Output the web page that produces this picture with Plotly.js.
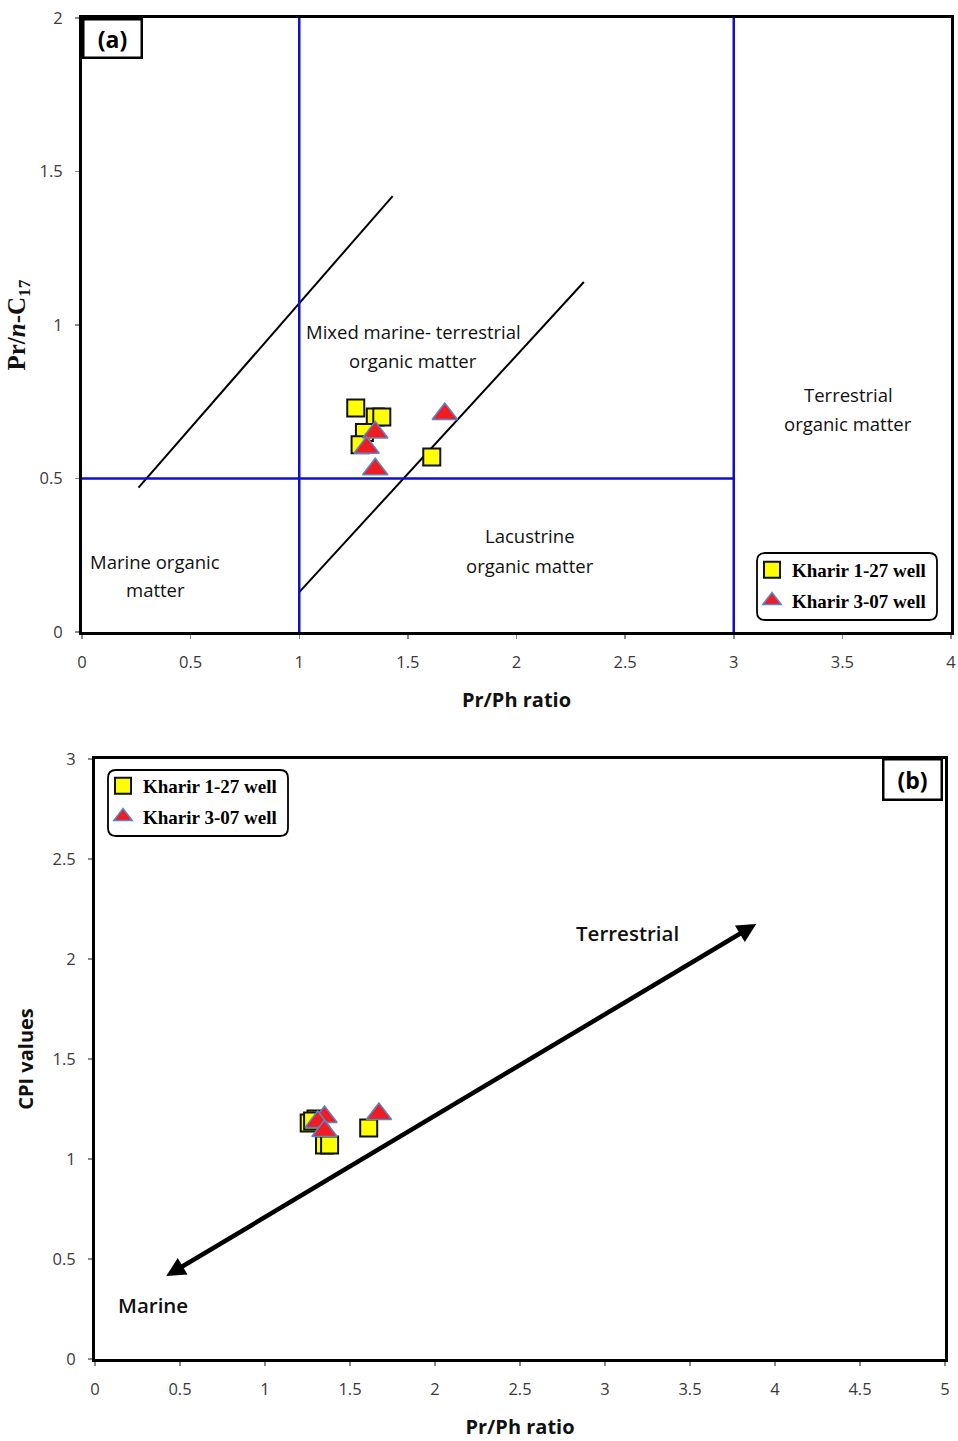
<!DOCTYPE html>
<html>
<head>
<meta charset="utf-8">
<script src="https://cdn.plot.ly/plotly-3.0.1.min.js"></script>
<style>
  html, body { margin: 0; padding: 0; background: #fff; }
  #chart { width: 958px; height: 1441px; }
</style>
</head>
<body>
<div id="chart"></div>
<script>
// Well names
const wellSquares = 'Kharir 1-27 well';
const wellTriangles = 'Kharir 3-07 well';

// Kharir 1-27 samples
const prPhSq   = [1.26, 1.35, 1.38, 1.30, 1.28, 1.61];
const prC17Sq  = [0.73, 0.70, 0.70, 0.65, 0.61, 0.57];
const cpiSq    = [1.18, 1.07, 1.07, 1.20, 1.19, 1.155];

// Kharir 3-07 samples
const prPhTri  = [1.67, 1.35, 1.31, 1.35];
const prC17Tri = [0.71, 0.65, 0.60, 0.53];
const cpiTri   = [1.225, 1.21, 1.185, 1.14];

// Genetic-field boundaries (Pr/Ph vs Pr/n-C17)
const diagUpperX = [0.26, 1.43];
const diagUpperY = [0.47, 1.42];
const diagLowerX = [1.0, 2.31];
const diagLowerY = [0.13, 1.14];
const vertLeftX  = [1, 1];
const vertRightX = [3, 3];
const vertY      = [0, 2];
const horizX     = [0, 3];
const horizY     = [0.5, 0.5];

// Marine-terrestrial trend arrow (Pr/Ph vs CPI)
const trendX = [0.41, 3.89];
const trendY = [0.41, 2.175];

// Tick values
const ticksXa = [0, 0.5, 1, 1.5, 2, 2.5, 3, 3.5, 4];
const ticksYa = [0, 0.5, 1, 1.5, 2];
const ticksXb = [0, 0.5, 1, 1.5, 2, 2.5, 3, 3.5, 4, 4.5, 5];
const ticksYb = [0, 0.5, 1, 1.5, 2, 2.5, 3];

const W = 958, H = 1441;
const px = v => v / W;
const py = v => 1 - v / H;

const blue = '#1010c8';
const sqMarker = { symbol: 'square', size: 17, color: '#ffff00', line: { color: '#111', width: 2 } };
const triMarker = { symbol: 'triangle-up', size: 22, color: '#f01c24', line: { color: '#5a86c8', width: 1.5 } };

const traces = [
  { x: diagUpperX, y: diagUpperY, mode: 'lines', line: { color: '#000', width: 2 }, showlegend: false, hoverinfo: 'skip', xaxis: 'x', yaxis: 'y' },
  { x: diagLowerX, y: diagLowerY, mode: 'lines', line: { color: '#000', width: 2 }, showlegend: false, hoverinfo: 'skip', xaxis: 'x', yaxis: 'y' },
  { x: vertLeftX, y: vertY, mode: 'lines', line: { color: blue, width: 2.5 }, showlegend: false, hoverinfo: 'skip', xaxis: 'x', yaxis: 'y' },
  { x: vertRightX, y: vertY, mode: 'lines', line: { color: blue, width: 2.5 }, showlegend: false, hoverinfo: 'skip', xaxis: 'x', yaxis: 'y' },
  { x: horizX, y: horizY, mode: 'lines', line: { color: blue, width: 2.5 }, showlegend: false, hoverinfo: 'skip', xaxis: 'x', yaxis: 'y' },
  { x: prPhSq, y: prC17Sq, mode: 'markers', name: wellSquares, marker: sqMarker, legend: 'legend', legendgroup: 'a1', xaxis: 'x', yaxis: 'y' },
  { x: prPhTri, y: prC17Tri, mode: 'markers', name: wellTriangles, marker: triMarker, legend: 'legend', legendgroup: 'a2', xaxis: 'x', yaxis: 'y' },
  { x: prPhSq, y: cpiSq, mode: 'markers', name: wellSquares, marker: sqMarker, legend: 'legend2', legendgroup: 'b1', xaxis: 'x2', yaxis: 'y2' },
  { x: prPhTri, y: cpiTri, mode: 'markers', name: wellTriangles, marker: triMarker, legend: 'legend2', legendgroup: 'b2', xaxis: 'x2', yaxis: 'y2' }
];

const tickFont = { family: 'Open Sans, sans-serif', size: 16.5, color: '#3a3a3a' };
const axisBase = {
  showgrid: false, zeroline: false, showline: true, linecolor: '#000', linewidth: 3, mirror: true,
  ticks: 'outside', ticklen: 4, tickwidth: 1.5, tickcolor: '#8a8a8a', tickfont: tickFont,
  fixedrange: true
};
const sansTitle = { family: 'Open Sans, sans-serif', size: 20, color: '#111', weight: 'bold' };
const labelFont = { family: 'Open Sans, sans-serif', size: 18.5, color: '#111' };
const legendFont = { family: 'Liberation Serif, Times New Roman, serif', size: 19, color: '#000', weight: 'bold' };

function roundedBox(x0, y0, x1, y1, r) {
  const X = v => px(v).toFixed(5), Y = v => py(v).toFixed(5);
  return 'M ' + X(x0 + r) + ',' + Y(y0) +
    ' L ' + X(x1 - r) + ',' + Y(y0) + ' Q ' + X(x1) + ',' + Y(y0) + ' ' + X(x1) + ',' + Y(y0 + r) +
    ' L ' + X(x1) + ',' + Y(y1 - r) + ' Q ' + X(x1) + ',' + Y(y1) + ' ' + X(x1 - r) + ',' + Y(y1) +
    ' L ' + X(x0 + r) + ',' + Y(y1) + ' Q ' + X(x0) + ',' + Y(y1) + ' ' + X(x0) + ',' + Y(y1 - r) +
    ' L ' + X(x0) + ',' + Y(y0 + r) + ' Q ' + X(x0) + ',' + Y(y0) + ' ' + X(x0 + r) + ',' + Y(y0) + ' Z';
}

function fieldLabel(text, x, y) {
  return { text: text, x: x, y: y, xref: 'x', yref: 'y', showarrow: false, font: labelFont, xanchor: 'center', yanchor: 'middle' };
}

const layout = {
  width: W, height: H,
  margin: { l: 0, r: 0, t: 0, b: 0 },
  paper_bgcolor: '#fff', plot_bgcolor: '#fff',
  showlegend: true,
  xaxis: Object.assign({}, axisBase, {
    domain: [px(82), px(951)], range: [0, 4], tickvals: ticksXa, anchor: 'y', ticklabelstandoff: 9,
    title: { text: 'Pr/Ph ratio', font: sansTitle, standoff: 22 }
  }),
  yaxis: Object.assign({}, axisBase, {
    domain: [py(632), py(18)], range: [0, 2], tickvals: ticksYa, anchor: 'x', ticklabelstandoff: 9,
    title: { text: 'Pr/<i>n</i>-C<sub>17</sub>', font: { family: 'Liberation Serif, Times New Roman, serif', size: 25, color: '#111', weight: 'bold' }, standoff: 7 }
  }),
  xaxis2: Object.assign({}, axisBase, {
    domain: [px(95), px(945)], range: [0, 5], tickvals: ticksXb, anchor: 'y2', ticklabelstandoff: 9,
    title: { text: 'Pr/Ph ratio', font: sansTitle, standoff: 22 }
  }),
  yaxis2: Object.assign({}, axisBase, {
    domain: [py(1359), py(759)], range: [0, 3], tickvals: ticksYb, anchor: 'x2', ticklabelstandoff: 9,
    title: { text: 'CPI values', font: sansTitle, standoff: 14 }
  }),
  legend: {
    x: px(752), y: py(551), xanchor: 'left', yanchor: 'top', traceorder: 'grouped',
    bgcolor: 'rgba(0,0,0,0)', borderwidth: 0, font: legendFont, itemwidth: 30, tracegroupgap: 3
  },
  legend2: {
    x: px(103), y: py(767), xanchor: 'left', yanchor: 'top', traceorder: 'grouped',
    bgcolor: 'rgba(0,0,0,0)', borderwidth: 0, font: legendFont, itemwidth: 30, tracegroupgap: 3
  },
  shapes: [
    { type: 'path', xref: 'paper', yref: 'paper', path: roundedBox(757, 553, 937, 620, 8), line: { color: '#000', width: 1.8 }, fillcolor: 'rgba(255,255,255,0)', layer: 'above' },
    { type: 'path', xref: 'paper', yref: 'paper', path: roundedBox(108, 770, 288, 836, 8), line: { color: '#000', width: 1.8 }, fillcolor: 'rgba(255,255,255,0)', layer: 'above' }
  ],
  annotations: [
    fieldLabel('Mixed marine- terrestrial', 1.524, 0.980),
    fieldLabel('organic matter', 1.524, 0.883),
    fieldLabel('Terrestrial', 3.526, 0.775),
    fieldLabel('organic matter', 3.526, 0.678),
    fieldLabel('Lacustrine', 2.062, 0.313),
    fieldLabel('organic matter', 2.062, 0.218),
    fieldLabel('Marine organic', 0.336, 0.231),
    fieldLabel('matter', 0.336, 0.137),
    { text: '(a)', xref: 'x domain', yref: 'y domain', x: 0, y: 1, xanchor: 'left', yanchor: 'top', showarrow: false,
      font: { family: 'Open Sans, sans-serif', size: 23, color: '#000', weight: 'bold' },
      bgcolor: '#fff', bordercolor: '#000', borderwidth: 2.5, borderpad: 2, width: 52 },
    { text: '(b)', xref: 'x2 domain', yref: 'y2 domain', x: 0.9976, y: 1.001, xanchor: 'right', yanchor: 'top', showarrow: false,
      font: { family: 'Open Sans, sans-serif', size: 23, color: '#000', weight: 'bold' },
      bgcolor: '#fff', bordercolor: '#000', borderwidth: 2.5, borderpad: 3, width: 50 },
    { text: '', x: trendX[1], y: trendY[1], ax: trendX[0], ay: trendY[0], xref: 'x2', yref: 'y2', axref: 'x2', ayref: 'y2',
      showarrow: true, arrowside: 'end+start', arrowhead: 2, startarrowhead: 2, arrowsize: 0.85, startarrowsize: 0.85,
      arrowwidth: 4.5, arrowcolor: '#000', standoff: 0, startstandoff: 0 },
    { text: 'Terrestrial', x: 3.135, y: 2.13, xref: 'x2', yref: 'y2', showarrow: false,
      font: { family: 'Open Sans, sans-serif', size: 20.5, color: '#111', weight: 600 } },
    { text: 'Marine', x: 0.341, y: 0.27, xref: 'x2', yref: 'y2', showarrow: false,
      font: { family: 'Open Sans, sans-serif', size: 20.5, color: '#111', weight: 600 } }
  ]
};

Plotly.newPlot('chart', traces, layout, { displayModeBar: false, staticPlot: true });
</script>
</body>
</html>
